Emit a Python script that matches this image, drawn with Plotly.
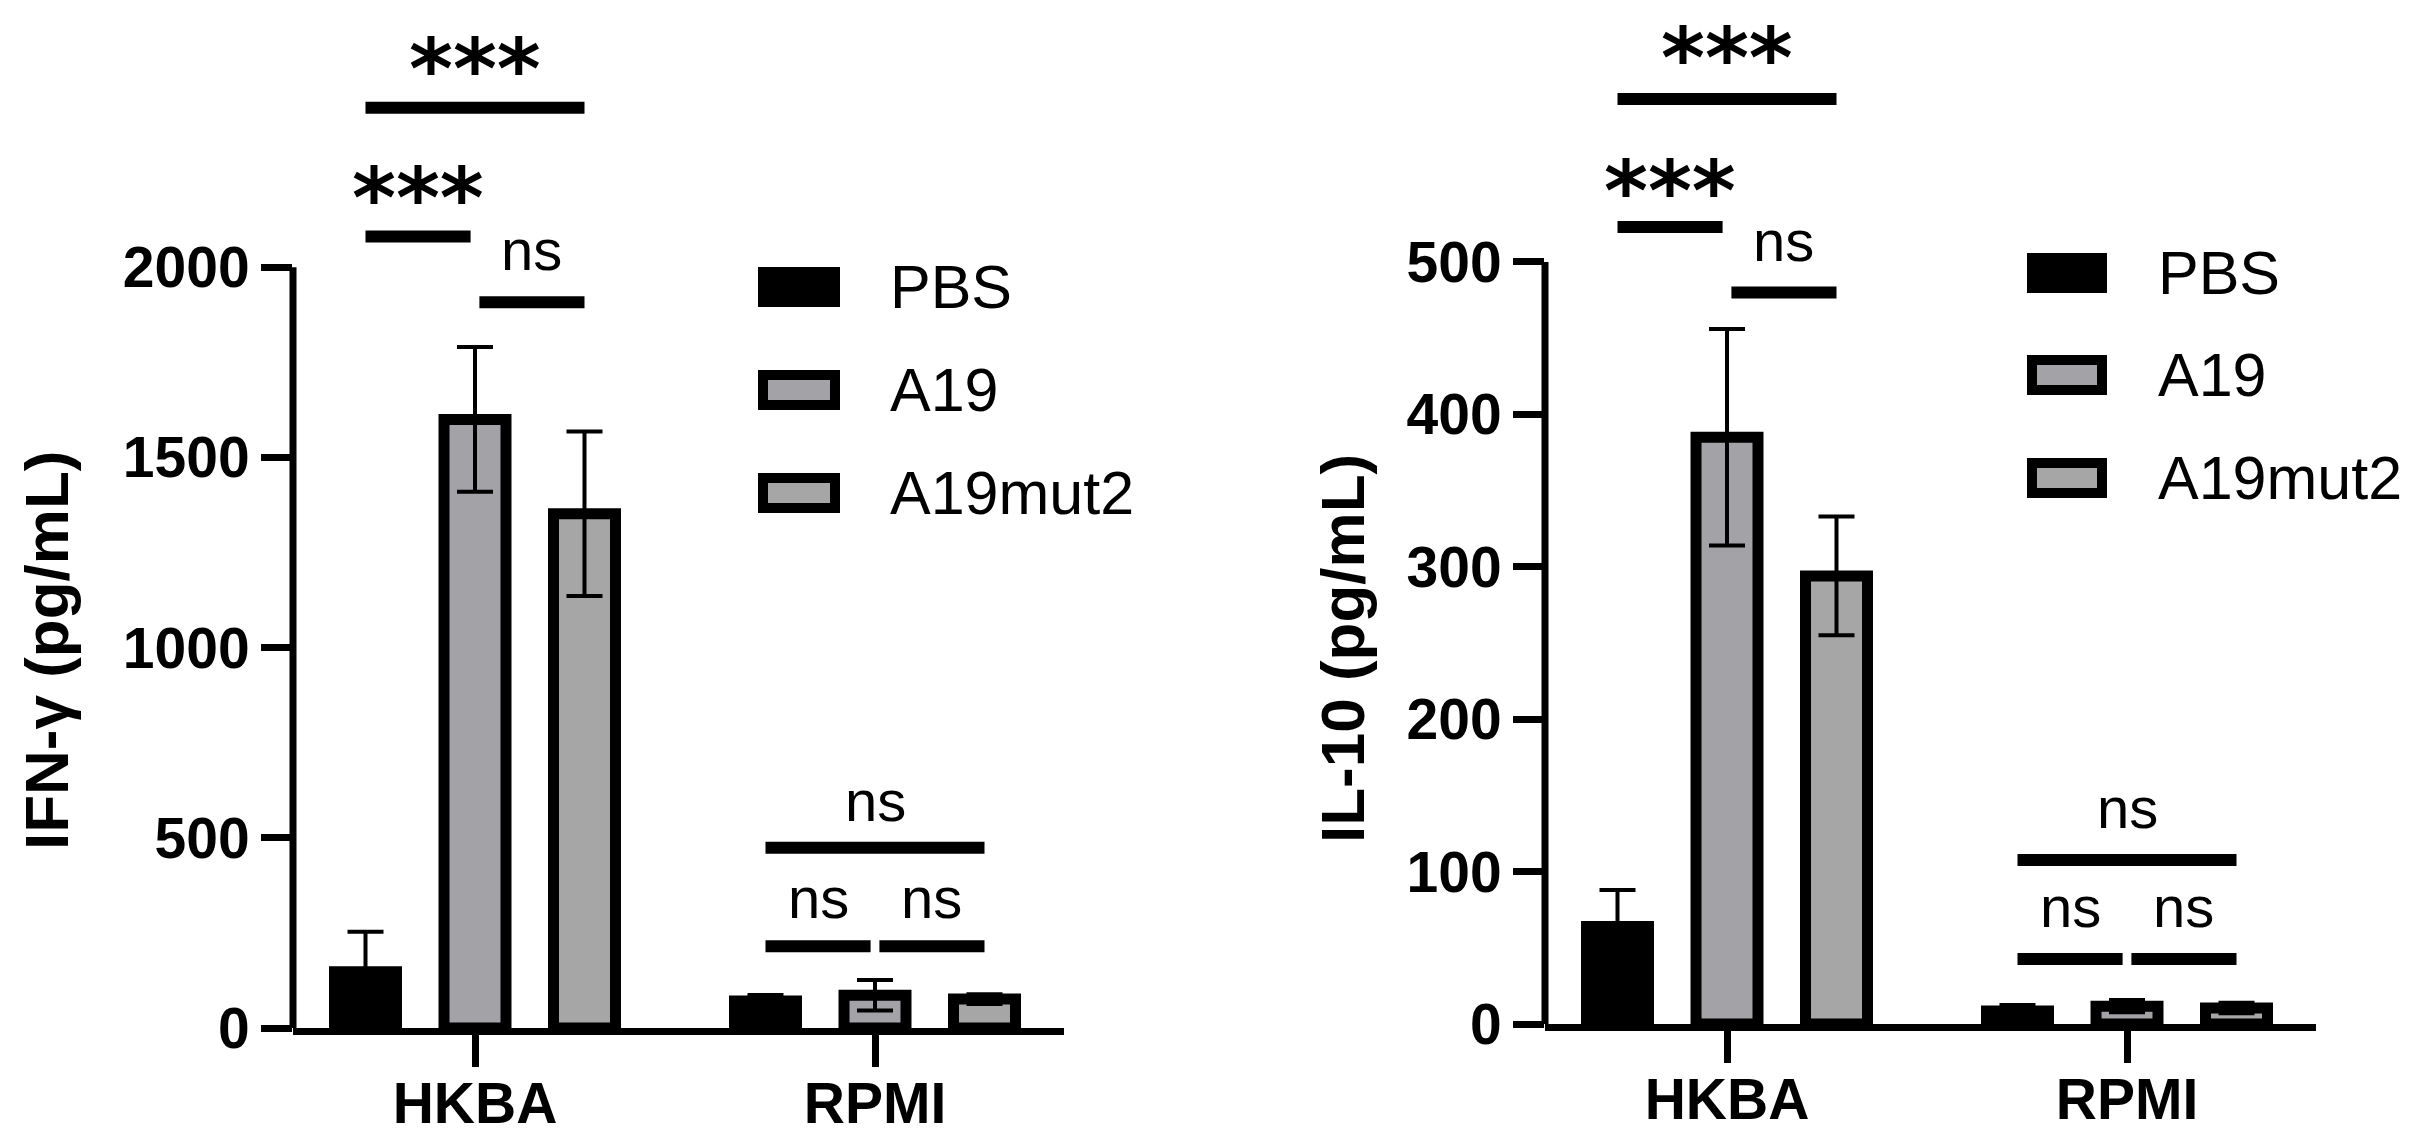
import plotly.graph_objects as go

# ---- data ----
groups = ["HKBA", "RPMI"]
series = ["PBS", "A19", "A19mut2"]

ifng_mean = {"PBS": [148, 71], "A19": [1600, 86], "A19mut2": [1352, 76]}
ifng_err = {"PBS": [105, 16], "A19": [190, 40], "A19mut2": [216, 13]}

il10_mean = {"PBS": [64, 8.5], "A19": [385, 11.7], "A19mut2": [294, 10.5]}
il10_err = {"PBS": [24, 4], "A19": [71, 4], "A19mut2": [39, 3.5]}

ifng_ticks = [0, 500, 1000, 1500, 2000]
il10_ticks = [0, 100, 200, 300, 400, 500]

# (group, bar a, bar b, line value, label, label value)
ifng_sig = [
    ("HKBA", 0, 2, 2419, "***", 2550),
    ("HKBA", 0, 1, 2081, "***", 2212),
    ("HKBA", 1, 2, 1908, "ns", 2047),
    ("RPMI", 0, 2, 474, "ns", 598),
    ("RPMI", 0, 1, 215, "ns", 343),
    ("RPMI", 1, 2, 215, "ns", 343),
]
il10_sig = [
    ("HKBA", 0, 2, 607, "***", 641),
    ("HKBA", 0, 1, 523, "***", 554),
    ("HKBA", 1, 2, 480, "ns", 514),
    ("RPMI", 0, 2, 107.6, "ns", 142),
    ("RPMI", 0, 1, 42.6, "ns", 77),
    ("RPMI", 1, 2, 42.6, "ns", 77),
]

# ---- styling ----
W, H = 2411, 1140
OFF = 8  # page body margin around the plot div
FONT = "Liberation Sans"
fills = ["#000000", "#a2a2a7", "#a6a6a6"]
BARGAP = 0.17875
SLOT = (1 - BARGAP) / 3


def px(x):
    return (x - OFF) / (W - OFF)


def py(y):
    return 1 - (y - OFF) / (H - OFF)


panels = [
    dict(mean=ifng_mean, err=ifng_err, sig=ifng_sig, ticks=ifng_ticks,
         title="IFN-γ (pg/mL)", xa="x", ya="y", x0=293, x1=1064, y0=1028, top=2600,
         title_xy=(46, 650), leg_x=(758, 840, 888), leg_rows=[287, 390, 493]),
    dict(mean=il10_mean, err=il10_err, sig=il10_sig, ticks=il10_ticks,
         title="IL-10 (pg/mL)", xa="x2", ya="y2", x0=1545, x1=2316, y0=1024, top=646.3,
         title_xy=(1342, 649), leg_x=(2027, 2107, 2156), leg_rows=[273, 375, 478]),
]

fig = go.Figure()
shapes = []
annotations = []
layout_axes = {}

for p in panels:
    for j, s in enumerate(series):
        fig.add_trace(go.Bar(
            x=groups, y=p["mean"][s], name=s, showlegend=False,
            xaxis=p["xa"], yaxis=p["ya"],
            marker=dict(color=fills[j], line=dict(color="black", width=11)),
            error_y=dict(type="data", array=p["err"][s], color="black",
                         thickness=4, width=18),
        ))

    xname = "xaxis" if p["xa"] == "x" else "xaxis2"
    yname = "yaxis" if p["ya"] == "y" else "yaxis2"
    layout_axes[xname] = dict(
        domain=[px(p["x0"]), px(p["x1"])], anchor=p["ya"], type="category",
        range=[-0.455, 1.4725], showline=True, linecolor="black", linewidth=7,
        ticks="outside", ticklen=32, tickwidth=7, tickcolor="black",
        ticklabelstandoff=-12,
        tickfont=dict(family=FONT, size=57, color="black", weight="bold"),
        showgrid=False, zeroline=False, fixedrange=True, automargin=False,
    )
    layout_axes[yname] = dict(
        domain=[py(p["y0"]), py(39)], anchor=p["xa"], range=[0, p["top"]],
        tickvals=p["ticks"], ticks="outside", ticklen=31, tickwidth=7,
        tickcolor="black", showline=False, showgrid=False, zeroline=False,
        tickfont=dict(family=FONT, size=57, color="black", weight="bold"),
        fixedrange=True, automargin=False,
    )

    # y axis line only up to the last tick
    shapes.append(dict(type="line", xref=p["xa"] + " domain", yref=p["ya"],
                       x0=0, x1=0, y0=0, y1=p["ticks"][-1],
                       line=dict(color="black", width=7)))

    # significance brackets
    for g, a, b, yl, lab, yt in p["sig"]:
        gi = groups.index(g)
        xa_ = gi + (a - 1) * SLOT
        xb_ = gi + (b - 1) * SLOT
        if b - a == 1:
            if a == 1:
                xa_ += 0.011
            else:
                xb_ -= 0.011
        shapes.append(dict(type="line", xref=p["xa"], yref=p["ya"],
                           x0=xa_, x1=xb_, y0=yl, y1=yl,
                           line=dict(color="black", width=12)))
        if lab == "***":
            f = dict(family="DejaVu Sans", size=84, color="black", weight="bold")
            shift = -11
        else:
            f = dict(family=FONT, size=58, color="black")
            shift = 0
        annotations.append(dict(xref=p["xa"], yref=p["ya"], x=(xa_ + xb_) / 2, y=yt,
                                text=lab, showarrow=False, font=f, yshift=shift,
                                xanchor="center", yanchor="middle"))

    # y axis title
    tx, ty = p["title_xy"]
    annotations.append(dict(xref="paper", yref="paper", x=px(tx), y=py(ty),
                            text=p["title"], textangle=-90, showarrow=False,
                            xanchor="center", yanchor="middle",
                            font=dict(family=FONT, size=62, color="black", weight="bold")))

    # legend
    lx0, lx1, ltx = p["leg_x"]
    for j, (s, ry) in enumerate(zip(series, p["leg_rows"])):
        if j == 0:
            shapes.append(dict(type="rect", xref="paper", yref="paper",
                               x0=px(lx0), x1=px(lx1), y0=py(ry + 20), y1=py(ry - 20),
                               fillcolor=fills[j], line=dict(width=0)))
        else:
            shapes.append(dict(type="rect", xref="paper", yref="paper",
                               x0=px(lx0 + 5), x1=px(lx1 - 5), y0=py(ry + 15), y1=py(ry - 15),
                               fillcolor=fills[j], line=dict(color="black", width=10)))
        annotations.append(dict(xref="paper", yref="paper", x=px(ltx), y=py(ry),
                                text=s, showarrow=False, xanchor="left", yanchor="middle",
                                font=dict(family=FONT, size=61, color="black")))

fig.update_layout(
    width=W - OFF, height=H - OFF, barmode="group", bargap=BARGAP, bargroupgap=0.434,
    margin=dict(l=0, r=0, t=0, b=0, autoexpand=False),
    paper_bgcolor="white", plot_bgcolor="white",
    showlegend=False, shapes=shapes, annotations=annotations,
    **layout_axes,
)

fig.write_html("out.html")
